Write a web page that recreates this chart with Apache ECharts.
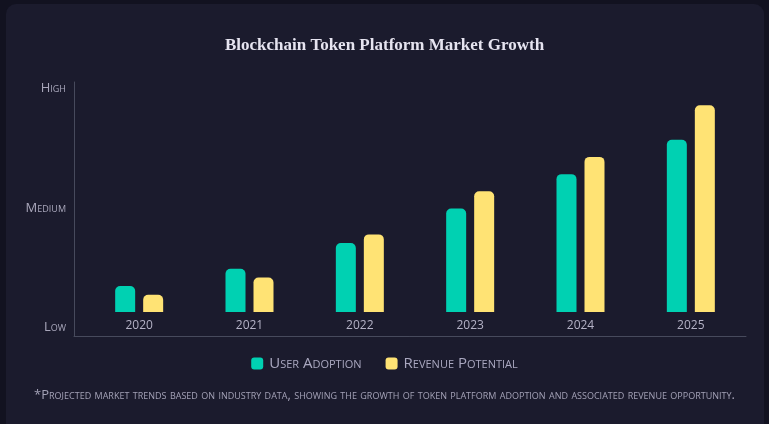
<!DOCTYPE html>
<html>
<head>
<meta charset="utf-8">
<script src="https://cdn.jsdelivr.net/npm/echarts@6/dist/echarts.min.js"></script>
<style>
  html, body { margin: 0; padding: 0; background: #121220; width: 769px; height: 424px; overflow: hidden; }
  #card { position: absolute; left: 6px; top: 4px; width: 758px; height: 440px; background: #1b1b2d; border-radius: 10px; }
  #chart { position: absolute; left: 0; top: 0; width: 769px; height: 424px; }
</style>
</head>
<body>
<div id="card"></div>
<div id="chart"></div>
<script>
const categories = ['2020', '2021', '2022', '2023', '2024', '2025'];
const userAdoption = [15, 25, 40, 60, 80, 100];
const revenuePotential = [10, 20, 45, 70, 90, 120];
const yTickValues = [-9, 60, 130];
const yTickLabels = ['Low', 'Medium', 'High'];
const seriesNames = ['User Adoption', 'Revenue Potential'];
const titleText = 'Blockchain Token Platform Market Growth';
const footnoteText = '*Projected market trends based on industry data, showing the growth of token platform adoption and associated revenue opportunity.';

const labelFont = 'Open Sans';
const chart = echarts.init(document.getElementById('chart'), null, { renderer: 'canvas' });
const yMin = -14, yMax = 133.5;

chart.setOption({
  backgroundColor: 'transparent',
  animation: false,
  title: [
    {
      text: titleText,
      left: 'center',
      top: 32,
      textStyle: { color: '#e6e4f0', fontSize: 17, fontWeight: 'bold', fontFamily: 'Liberation Serif' }
    },
    {
      text: footnoteText,
      left: 'center',
      top: 384,
      textStyle: { color: '#a3a1b6', fontSize: 13, fontWeight: 'normal', fontStyle: 'small-caps', fontFamily: labelFont }
    }
  ],
  legend: {
    data: seriesNames,
    left: 'center',
    top: 351,
    icon: 'roundRect',
    itemWidth: 12,
    itemHeight: 12,
    itemGap: 24,
    textStyle: { color: '#aaa8c0', fontSize: 15, fontStyle: 'small-caps', fontFamily: labelFont, padding: [0, 0, 0, 1] }
  },
  grid: [
    { left: 84, right: 23, top: 82, bottom: 88 },
    { left: 74, right: 23, top: 82, bottom: 88 }
  ],
  xAxis: [
    {
      type: 'category',
      gridIndex: 0,
      data: categories,
      axisLine: { show: false },
      axisTick: { show: false },
      axisLabel: { inside: true, margin: 4, color: '#b4b2c6', fontSize: 12, fontFamily: labelFont }
    },
    {
      type: 'value',
      gridIndex: 1,
      min: 0, max: 1,
      axisLine: { show: true, onZero: false, lineStyle: { color: '#474a5c', width: 1 } },
      axisTick: { show: false },
      axisLabel: { show: false },
      splitLine: { show: false }
    }
  ],
  yAxis: [
    {
      type: 'value',
      gridIndex: 0,
      min: yMin, max: yMax,
      show: false
    },
    {
      type: 'value',
      gridIndex: 1,
      min: yMin, max: yMax,
      axisLine: { show: true, onZero: false, lineStyle: { color: '#474a5c', width: 1 } },
      axisTick: { show: false },
      splitLine: { show: false },
      axisLabel: {
        customValues: yTickValues,
        margin: 8,
        color: '#a9a7bb',
        fontSize: 13,
        fontStyle: 'small-caps',
        fontFamily: labelFont,
        formatter: function (v) {
          const i = yTickValues.indexOf(v);
          return i >= 0 ? yTickLabels[i] : '';
        }
      }
    }
  ],
  series: [
    {
      name: seriesNames[0],
      type: 'bar',
      xAxisIndex: 0, yAxisIndex: 0,
      data: userAdoption,
      barWidth: 20,
      barGap: '40%',
      itemStyle: { color: '#00d1b2', borderRadius: [5, 5, 0, 0] }
    },
    {
      name: seriesNames[1],
      type: 'bar',
      xAxisIndex: 0, yAxisIndex: 0,
      data: revenuePotential,
      barWidth: 20,
      barGap: '40%',
      itemStyle: { color: '#ffe374', borderRadius: [5, 5, 0, 0] }
    }
  ]
});
</script>
</body>
</html>
